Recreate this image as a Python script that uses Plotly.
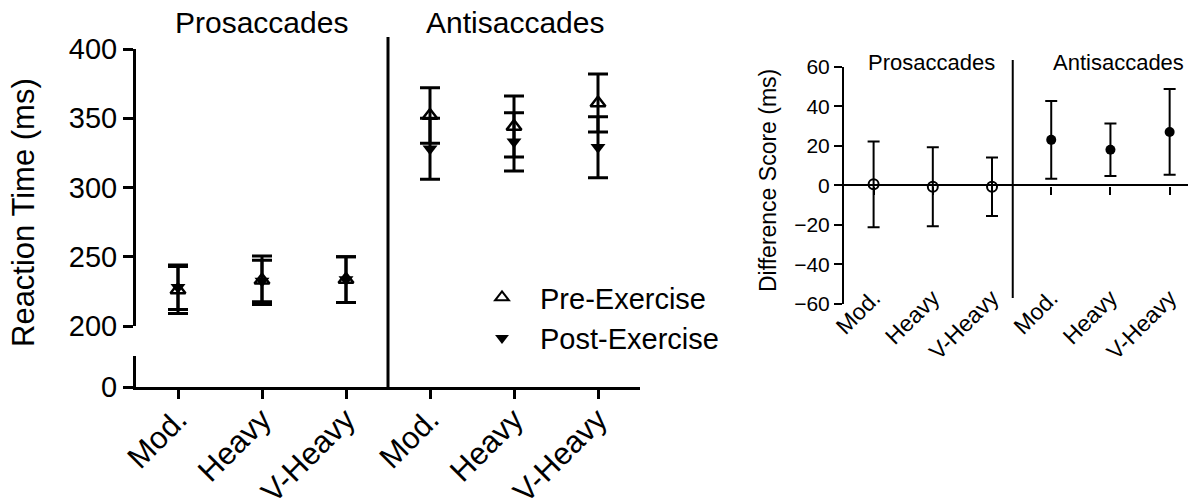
import plotly.graph_objects as go

W, H = 1188, 502

categories = ["Mod.", "Heavy", "V-Heavy"]
groups = ["Prosaccades", "Antisaccades"]

# Left panel: reaction time (ms)
pre_pro = [226, 233, 233.5]
pre_pro_err = [17, 17.5, 16.5]
post_pro = [228, 232.5, 233.5]
post_pro_err = [16, 15, 16.5]
pre_anti = [352, 344, 361]
pre_anti_err = [20, 22, 21]
post_anti = [328, 333, 329]
post_anti_err = [22, 21, 22]

# Right panel: difference score (ms)
diff_pro = [0.5, -0.7, -0.7]
diff_pro_err = [21.7, 20, 14.8]
diff_anti = [23, 18, 27]
diff_anti_err = [19.6, 13.3, 21.7]

FONT = "Liberation Sans, Arial, sans-serif"

def px_x(p):
    return p / W

def px_y(p):
    return 1 - p / H

n = len(categories)
x_all = list(range(2 * n))
x_pro = x_all[:n]
x_anti = x_all[n:]
ticktext = categories * 2

fig = go.Figure()

fig.add_trace(go.Scatter(
    x=x_pro + x_anti, y=pre_pro + pre_anti, mode="markers",
    name="Pre-Exercise",
    marker=dict(symbol="triangle-up-open", size=13, color="black", line=dict(width=2.5)),
    error_y=dict(type="data", array=pre_pro_err + pre_anti_err, color="black", thickness=3, width=10),
    xaxis="x2", yaxis="y",
))
fig.add_trace(go.Scatter(
    x=x_pro + x_anti, y=post_pro + post_anti, mode="markers",
    name="Post-Exercise",
    marker=dict(symbol="triangle-down", size=13, color="black"),
    error_y=dict(type="data", array=post_pro_err + post_anti_err, color="black", thickness=3, width=10),
    xaxis="x2", yaxis="y",
))

fig.add_trace(go.Scatter(
    x=x_pro, y=diff_pro, mode="markers", showlegend=False,
    marker=dict(symbol="circle-open", size=10, color="black", line=dict(width=2)),
    error_y=dict(type="data", array=diff_pro_err, color="black", thickness=2, width=6),
    xaxis="x3", yaxis="y3",
))
fig.add_trace(go.Scatter(
    x=x_anti, y=diff_anti, mode="markers", showlegend=False,
    marker=dict(symbol="circle", size=10, color="black"),
    error_y=dict(type="data", array=diff_anti_err, color="black", thickness=2, width=6),
    xaxis="x3", yaxis="y3",
))
# invisible helpers so every axis gets drawn
for xa, ya in [("x", "y2"), ("x4", "y3"), ("x5", "y2"), ("x6", "y3")]:
    fig.add_trace(go.Scatter(x=[0], y=[0], mode="markers", marker=dict(opacity=0),
                             showlegend=False, hoverinfo="skip", xaxis=xa, yaxis=ya))

left_dom = [px_x(136), px_x(640)]
right_dom = [px_x(844), 1.0]
xr_left = [-0.5, 5.5]
xr_right = [-0.5, 5.31]
lower_top = 31 * 50 / 69.3
LF = 29
RF = 21

noax = dict(showgrid=False, zeroline=False, automargin=False)

fig.update_layout(
    width=W, height=H, autosize=False,
    margin=dict(l=0, r=0, t=0, b=0, pad=0, autoexpand=False),
    paper_bgcolor="white", plot_bgcolor="white",
    font=dict(family=FONT, color="black"),
    showlegend=True,
    legend=dict(x=px_x(464), y=px_y(272), xanchor="left", yanchor="top",
                font=dict(size=LF, family=FONT), bgcolor="rgba(0,0,0,0)",
                tracegroupgap=0, itemwidth=66, itemsizing="constant"),
    # left panel: axis line + ticks
    xaxis=dict(domain=left_dom, range=xr_left, anchor="y2",
               showline=True, linewidth=3, linecolor="black",
               ticks="outside", ticklen=9, tickwidth=3, tickcolor="black",
               tickvals=x_all, showticklabels=False, **noax),
    # left panel: category labels
    xaxis5=dict(overlaying="x", range=xr_left, anchor="free", position=px_y(394),
                showline=False, ticks="", tickvals=x_all, ticktext=ticktext,
                tickangle=-45, tickfont=dict(size=LF + 2), **noax),
    xaxis2=dict(domain=left_dom, range=xr_left, anchor="y", visible=False, **noax),
    yaxis=dict(domain=[px_y(326), px_y(49)], range=[200, 400], anchor="x2",
               showline=True, linewidth=3, linecolor="black",
               ticks="outside", ticklen=10, tickwidth=3, tickcolor="black",
               tickvals=[200, 250, 300, 350, 400], tickfont=dict(size=LF), **noax),
    yaxis5=dict(overlaying="y", range=[200, 400], anchor="x2", side="left",
                showline=False, ticks="inside", ticklen=10, tickwidth=3, tickcolor="black",
                tickvals=[200], showticklabels=False, **noax),
    yaxis2=dict(domain=[px_y(387), px_y(356)], range=[0, lower_top], anchor="x",
                showline=True, linewidth=3, linecolor="black",
                ticks="outside", ticklen=10, tickwidth=3, tickcolor="black",
                tickvals=[0], tickfont=dict(size=LF), **noax),
    yaxis6=dict(overlaying="y2", range=[0, lower_top], anchor="x", side="left",
                showline=False, ticks="inside", ticklen=10, tickwidth=3, tickcolor="black",
                tickvals=[lower_top], showticklabels=False, **noax),
    # right panel
    xaxis3=dict(domain=right_dom, range=xr_right, anchor="y3",
                showline=False, ticks="", showticklabels=False, **noax),
    xaxis6=dict(overlaying="x3", range=xr_right, anchor="free", position=px_y(279),
                showline=False, ticks="", tickvals=x_all, ticktext=ticktext,
                tickangle=-45, tickfont=dict(size=RF + 2), **noax),
    xaxis4=dict(overlaying="x3", range=xr_right, anchor="free", position=px_y(185.7),
                showline=False, ticks="outside", ticklen=8, tickwidth=2, tickcolor="black",
                tickvals=x_all, showticklabels=False, **noax),
    yaxis3=dict(domain=[px_y(304), px_y(66.7)], range=[-60, 60], anchor="x3",
                showline=True, linewidth=2, linecolor="black",
                ticks="outside", ticklen=8, tickwidth=2, tickcolor="black",
                dtick=20, tickfont=dict(size=RF), showgrid=False, automargin=False,
                zeroline=True, zerolinecolor="black", zerolinewidth=2),
)

fig.add_shape(type="line", xref="x", yref="paper", x0=2.5, x1=2.5,
              y0=px_y(387), y1=px_y(37), line=dict(color="black", width=3))
fig.add_shape(type="line", xref="x3", yref="paper", x0=2.35, x1=2.35,
              y0=px_y(298), y1=px_y(60), line=dict(color="black", width=2))

fig.add_annotation(x=px_x(261), xref="paper", y=px_y(23), yref="paper", text=groups[0],
                   showarrow=False, font=dict(size=LF + 1), xanchor="center", yanchor="middle")
fig.add_annotation(x=px_x(515), xref="paper", y=px_y(23), yref="paper", text=groups[1],
                   showarrow=False, font=dict(size=LF + 1), xanchor="center", yanchor="middle")
fig.add_annotation(x=px_x(931), xref="paper", y=px_y(62), yref="paper", text=groups[0],
                   showarrow=False, font=dict(size=RF + 1), xanchor="center", yanchor="middle")
fig.add_annotation(x=px_x(1118), xref="paper", y=px_y(62), yref="paper", text=groups[1],
                   showarrow=False, font=dict(size=RF + 1), xanchor="center", yanchor="middle")

fig.add_annotation(x=px_x(23), xref="paper", y=px_y(213), yref="paper",
                   text="Reaction Time (ms)", textangle=-90, showarrow=False,
                   font=dict(size=LF + 2), xanchor="center", yanchor="middle")
fig.add_annotation(x=px_x(768), xref="paper", y=px_y(181), yref="paper",
                   text="Difference Score (ms)", textangle=-90, showarrow=False,
                   font=dict(size=RF + 2), xanchor="center", yanchor="middle")

fig.write_html("out.html", post_script="document.body.style.margin='0';")
